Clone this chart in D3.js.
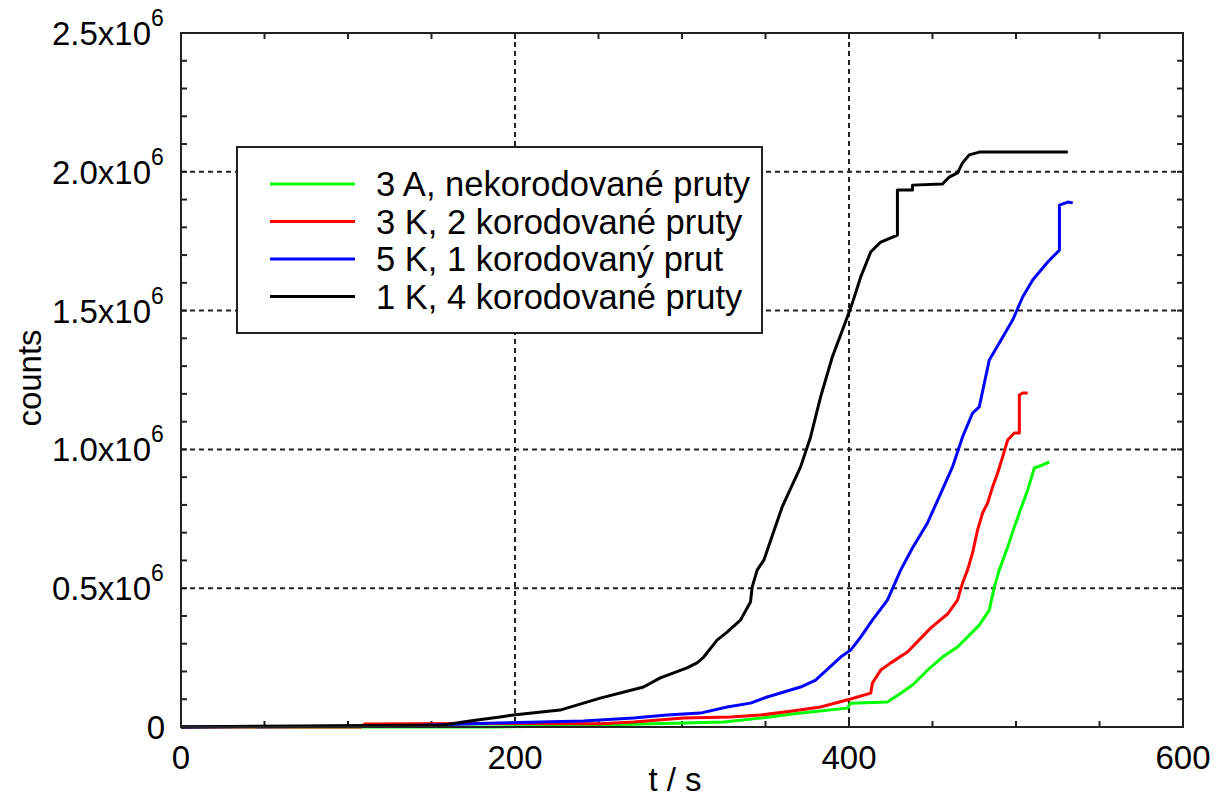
<!DOCTYPE html>
<html>
<head>
<meta charset="utf-8">
<script src="https://cdn.jsdelivr.net/npm/d3@7"></script>
<style>
  html, body { margin: 0; padding: 0; background: #fff; }
  svg { display: block; }
  text { font-family: "Liberation Sans", Arial, sans-serif; fill: #000; }
</style>
</head>
<body>
<svg id="chart" width="1223" height="798"></svg>
<script>
// Cumulative AE counts vs. time, four specimens. Values: [t in s, counts in millions]
const seriesNames = [
  "3 A, nekorodované pruty",
  "3 K, 2 korodované pruty",
  "5 K, 1 korodovaný prut",
  "1 K, 4 korodované pruty"
];
const seriesColors = ["#00ff00", "#ff0000", "#0000ff", "#000000"];

const green = [
  [0, 0], [187, 0], [230, 0.004], [251, 0.007], [301, 0.014], [325, 0.018],
  [347, 0.032], [366, 0.047], [377, 0.054], [399, 0.068], [401, 0.086],
  [423, 0.090], [431, 0.122], [438, 0.151], [449, 0.216], [456, 0.252],
  [465, 0.288], [478, 0.367], [484, 0.421], [487, 0.504], [490, 0.566],
  [495, 0.648], [499, 0.720], [502, 0.771], [507, 0.854], [511, 0.933],
  [516, 0.944], [520, 0.955]
];
const red = [
  [0, 0], [108, 0], [110, 0.011], [173, 0.013], [251, 0.012], [271, 0.018],
  [301, 0.032], [329, 0.036], [347, 0.043], [366, 0.058], [383, 0.072],
  [401, 0.101], [413, 0.122], [414, 0.158], [419, 0.205], [425, 0.231],
  [435, 0.270], [449, 0.357], [459, 0.407], [465, 0.457], [468, 0.519],
  [471, 0.566], [474, 0.627], [477, 0.710], [480, 0.771], [483, 0.807],
  [486, 0.865], [489, 0.915], [492, 0.973], [495, 1.034], [499, 1.059],
  [502, 1.059], [502, 1.196], [504, 1.203], [507, 1.203]
];
const blue = [
  [0, 0], [131, 0.004], [189, 0.014], [241, 0.022], [271, 0.032], [291, 0.043],
  [311, 0.050], [327, 0.072], [341, 0.086], [351, 0.108], [371, 0.144],
  [380, 0.169], [395, 0.252], [401, 0.277], [407, 0.324], [414, 0.385],
  [423, 0.457], [431, 0.566], [438, 0.645], [447, 0.735], [454, 0.829],
  [462, 0.937], [468, 1.045], [474, 1.131], [478, 1.153], [484, 1.322],
  [490, 1.383], [498, 1.466], [504, 1.549], [510, 1.610], [519, 1.675],
  [526, 1.718], [526, 1.880], [531, 1.891], [534, 1.888]
];
const black = [
  [0, 0], [71, 0.004], [157, 0.007], [173, 0.022], [191, 0.036], [199, 0.043],
  [227, 0.061], [251, 0.104], [277, 0.144], [287, 0.177], [303, 0.213],
  [309, 0.231], [313, 0.252], [321, 0.313], [327, 0.342], [335, 0.385],
  [341, 0.450], [342, 0.504], [345, 0.565], [349, 0.601], [360, 0.793],
  [371, 0.937], [377, 1.045], [383, 1.189], [390, 1.333], [399, 1.477],
  [402, 1.527], [407, 1.621], [413, 1.711], [419, 1.747], [429, 1.772],
  [429, 1.934], [438, 1.934], [438, 1.952], [456, 1.956], [460, 1.981],
  [465, 1.996], [468, 2.032], [472, 2.061], [478, 2.071], [531, 2.071]
];
const seriesData = [green, red, blue, black];

const xTicks = [0, 200, 400, 600];
const yTicks = [0, 0.5, 1.0, 1.5, 2.0, 2.5];
const yTickLabels = ["0", "0.5x10", "1.0x10", "1.5x10", "2.0x10", "2.5x10"];
const xMinorTicks = d3.range(0, 601, 50);
const yMinorTicks = d3.range(0, 2.5001, 0.1);

const svg = d3.select("#chart");
const m = { left: 181, right: 1183, top: 33, bottom: 727 };

const x = d3.scaleLinear().domain([0, 600]).range([m.left, m.right]);
const y = d3.scaleLinear().domain([0, 2.5]).range([m.bottom, m.top]);

// dotted grid at inner major ticks
const grid = svg.append("g")
  .attr("stroke", "#222").attr("stroke-width", 2).attr("stroke-dasharray", "5,4");
grid.selectAll("line.gx").data(xTicks.slice(1, -1)).join("line")
  .attr("x1", d => x(d)).attr("x2", d => x(d))
  .attr("y1", m.top).attr("y2", m.bottom);
grid.selectAll("line.gy").data(yTicks.slice(1, -1)).join("line")
  .attr("x1", m.left).attr("x2", m.right)
  .attr("y1", d => y(d)).attr("y2", d => y(d));

// inward minor ticks on all four sides
const tk = svg.append("g").attr("stroke", "#222").attr("stroke-width", 2);
const tl = 6;
xMinorTicks.forEach(v => {
  tk.append("line").attr("x1", x(v)).attr("x2", x(v)).attr("y1", m.bottom).attr("y2", m.bottom - tl);
  tk.append("line").attr("x1", x(v)).attr("x2", x(v)).attr("y1", m.top).attr("y2", m.top + tl);
});
yMinorTicks.forEach(v => {
  tk.append("line").attr("x1", m.left).attr("x2", m.left + tl).attr("y1", y(v)).attr("y2", y(v));
  tk.append("line").attr("x1", m.right).attr("x2", m.right - tl).attr("y1", y(v)).attr("y2", y(v));
});

// data lines
const line = d3.line().x(d => x(d[0])).y(d => y(d[1]));
svg.append("g").selectAll("path").data(seriesData).join("path")
  .attr("d", line)
  .attr("fill", "none")
  .attr("stroke", (d, i) => seriesColors[i])
  .attr("stroke-width", 3)
  .attr("stroke-linejoin", "round");

// plot frame
svg.append("rect")
  .attr("x", m.left).attr("y", m.top)
  .attr("width", m.right - m.left).attr("height", m.bottom - m.top)
  .attr("fill", "none").attr("stroke", "#222").attr("stroke-width", 2);

// y tick labels with superscript exponent
const yl = svg.append("g").attr("font-size", 33);
yTicks.forEach((v, i) => {
  yl.append("text")
    .attr("x", i === 0 ? 165 : 151)
    .attr("y", y(v) + 12)
    .attr("text-anchor", "end")
    .text(yTickLabels[i]);
  if (i > 0) {
    yl.append("text").attr("x", 151).attr("y", y(v) - 7)
      .attr("font-size", 23).text("6");
  }
});

// x tick labels
svg.append("g").attr("font-size", 33).selectAll("text").data(xTicks).join("text")
  .attr("x", d => x(d)).attr("y", 769)
  .attr("text-anchor", "middle")
  .text(d => d);

// axis titles
svg.append("text").attr("x", 675).attr("y", 791).attr("font-size", 33)
  .attr("text-anchor", "middle").text("t / s");
svg.append("text").attr("transform", "translate(41,378) rotate(-90)")
  .attr("font-size", 33).attr("text-anchor", "middle").text("counts");

// legend
const lg = svg.append("g");
lg.append("rect").attr("x", 237).attr("y", 147).attr("width", 525).attr("height", 186)
  .attr("fill", "#fff").attr("stroke", "#222").attr("stroke-width", 2);
seriesNames.forEach((name, i) => {
  const ly = 184 + i * 37.5;
  lg.append("line").attr("x1", 270).attr("x2", 355).attr("y1", ly).attr("y2", ly)
    .attr("stroke", seriesColors[i]).attr("stroke-width", 3);
  lg.append("text").attr("x", 376).attr("y", ly + 12).attr("font-size", 34.5).text(name);
});
</script>
</body>
</html>
